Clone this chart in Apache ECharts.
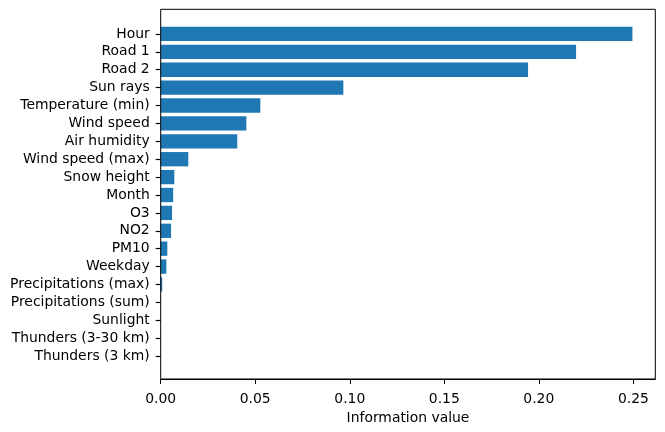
<!DOCTYPE html>
<html><head><meta charset="utf-8">
<script src="https://cdn.jsdelivr.net/npm/echarts@6/dist/echarts.min.js"></script>
<style>html,body{margin:0;padding:0;background:#fff}#c{width:665px;height:432px}</style>
</head><body><div id="c"></div>
<script>
const categories = ["Hour","Road 1","Road 2","Sun rays","Temperature (min)","Wind speed","Air humidity","Wind speed (max)","Snow height","Month","O3","NO2","PM10","Weekday","Precipitations (max)","Precipitations (sum)","Sunlight","Thunders (3-30 km)","Thunders (3 km)"];
const values = [0.2495,0.2197,0.1943,0.0966,0.0527,0.0453,0.0405,0.0146,0.0072,0.0066,0.0060,0.0055,0.0035,0.0030,0.0008,0.0001,0.0,0.0,0.0];
const xMax = 0.2616;

const chart = echarts.init(document.getElementById('c'), null, {renderer:'canvas'});
const font = 'DejaVu Sans';
const txt = '#000';
chart.setOption({
  animation:false,
  textStyle:{fontFamily:font},
  grid:[
    {left:160.7, right:9.7, top:25, bottom:67, containLabel:false},
    {left:160.7, right:9.7, top:9.3, bottom:53, show:true, borderColor:'#000', borderWidth:1, backgroundColor:'transparent', z:10}
  ],
  xAxis:[
    {gridIndex:0, type:'value', min:0, max:xMax, show:false},
    {gridIndex:1, type:'value', min:0, max:xMax, interval:0.05,
     axisLine:{show:true, lineStyle:{color:'#000', width:1}},
     axisTick:{show:true, length:5, lineStyle:{color:'#000', width:1}},
     splitLine:{show:false},
     axisLabel:{color:txt, fontSize:13.9, fontFamily:font, margin:13, showMaxLabel:false, formatter:v=>v.toFixed(2)},
     name:'Information value', nameLocation:'middle', nameGap:28,
     nameTextStyle:{color:txt, fontSize:13.9, fontFamily:font}}
  ],
  yAxis:[
    {gridIndex:0, type:'category', data:categories, inverse:true,
     axisLine:{show:true, onZero:false, lineStyle:{color:'rgba(0,0,0,0)'}},
     axisTick:{show:true, length:5, interval:0, alignWithLabel:true, lineStyle:{color:'#000', width:1.2}},
     axisLabel:{color:txt, fontSize:13.9, fontFamily:font, margin:11, interval:0}},
    {gridIndex:1, type:'value', show:false}
  ],
  series:[{
    type:'bar', xAxisIndex:0, yAxisIndex:0, data:values,
    barWidth:'80%', itemStyle:{color:'#1f77b4'}
  }]
});
</script></body></html>
